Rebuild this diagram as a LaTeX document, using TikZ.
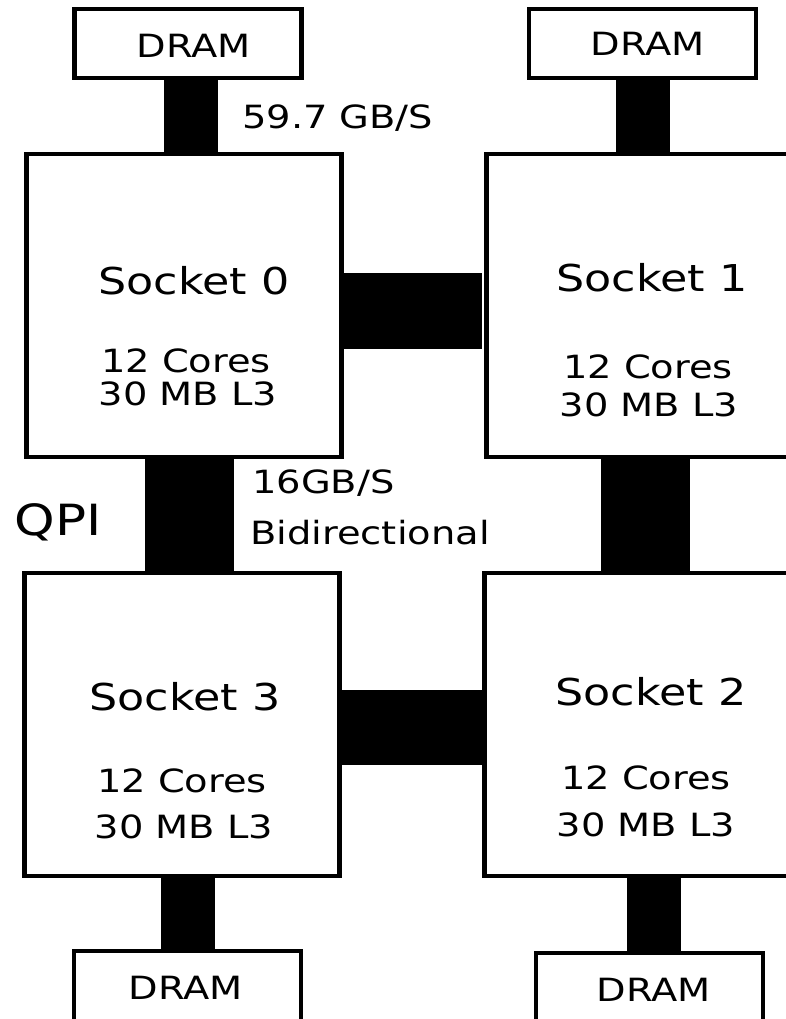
\documentclass[tikz,border=0pt]{standalone}
\usepackage{fontspec}
\setmainfont[FakeStretch=1.2]{DejaVu Sans}
\tikzset{
  socket/.style={draw, line width=4.5pt, minimum width=315pt, minimum height=303pt, inner sep=0pt},
  dram/.style={draw, line width=4.5pt, minimum width=227pt, minimum height=#1, inner sep=0pt},
  dram/.default=69pt,
  txt/.style={inner sep=0pt, font=\fontsize{32}{38}\selectfont},
  title/.style={inner sep=0pt, font=\fontsize{37}{44}\selectfont},
  memlink/.style={line width=54pt},
  qpi/.style={line width=#1}
}
\begin{document}
\begin{tikzpicture}[x=1pt, y=-1pt]
\useasboundingbox (0,0) rectangle (786,1019);
% memory
\node[dram] (d0) at (188,43.5) {};
\node[dram] (d1) at (642.5,43.5) {};
\node[dram=80pt] (d3) at (187.5,991) {};
\node[dram=80pt] (d2) at (649.5,993) {};
\node[txt] (d0t) at (194,46) {DRAM};
\node[txt] (d1t) at (648,44) {DRAM};
\node[txt] (d3t) at (186,988) {DRAM};
\node[txt] (d2t) at (654,990) {DRAM};
% sockets
\node[socket] (s0) at (184,305.5) {};
\node[socket] (s1) at (644,305.5) {};
\node[socket] (s3) at (182,724.5) {};
\node[socket] (s2) at (642,724.5) {};
\node[title] (s0t) at (194,281) {Socket 0};
\node[txt] (s0c) at (186,361) {12 Cores};
\node[txt] (s0l) at (188,394) {30 MB L3};
\node[title] (s1t) at (652,278) {Socket 1};
\node[txt] (s1c) at (648,367) {12 Cores};
\node[txt] (s1l) at (649,405) {30 MB L3};
\node[title] (s3t) at (185,697) {Socket 3};
\node[txt] (s3c) at (182,781) {12 Cores};
\node[txt] (s3l) at (184,827) {30 MB L3};
\node[title] (s2t) at (651,692) {Socket 2};
\node[txt] (s2c) at (646,778) {12 Cores};
\node[txt] (s2l) at (646,825) {30 MB L3};
% links
\draw[memlink] (191,0 |- d0.south) -- (191,0 |- s0.north);
\draw[memlink] (643,0 |- d1.south) -- (643,0 |- s1.north);
\draw[memlink] (188,0 |- s3.south) -- (188,0 |- d3.north);
\draw[memlink] (654,0 |- s2.south) -- (654,0 |- d2.north);
\draw[qpi=89pt] (189.5,0 |- s0.south) -- (189.5,0 |- s3.north);
\draw[qpi=89pt] (645.5,0 |- s1.south) -- (645.5,0 |- s2.north);
\draw[qpi=76pt] (s0.east |- 0,311) -- (482,311);
\draw[qpi=75pt] (s3.east |- 0,727.5) -- (s2.west |- 0,727.5);
% labels
\node[txt, anchor=west] (bw) at (242,118) {59.7 GB/S};
\node[txt, anchor=west] (qbw) at (252,483) {16GB/S};
\node[txt, anchor=west] (bidir) at (250,533) {Bidirectional};
\node[inner sep=0pt, font=\fontsize{43}{50}\selectfont] (qpilbl) at (58,522) {QPI};
\end{tikzpicture}
\end{document}
